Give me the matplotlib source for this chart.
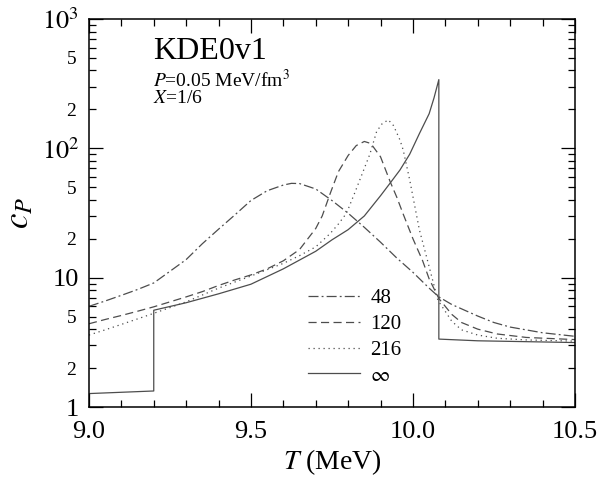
import matplotlib
matplotlib.use('Agg')
import numpy as np
import matplotlib.pyplot as plt
from matplotlib.ticker import FixedLocator, FuncFormatter

plt.rcParams['font.family'] = ['Liberation Serif', 'DejaVu Serif']
plt.rcParams['mathtext.fontset'] = 'stix'

# N = 48 (dash-dot)
t_48 = [9.0, 9.05, 9.1, 9.15, 9.2, 9.25, 9.3, 9.35, 9.4, 9.45, 9.5, 9.55, 9.6, 9.625,
        9.65, 9.7, 9.75, 9.8, 9.85, 9.9, 9.95, 10.0, 10.05, 10.08, 10.12, 10.2, 10.25,
        10.3, 10.4, 10.5]
c_48 = [6.0, 6.6, 7.3, 8.1, 9.1, 11.2, 13.8, 18.3, 23.7, 30.5, 39.5, 47.0, 52.0, 53.6,
        53.4, 48.5, 39.5, 31.5, 24.5, 18.8, 14.2, 11.0, 8.3, 7.1, 6.2, 5.05, 4.5,
        4.15, 3.75, 3.52]

# N = 120 (dashed)
t_120 = [9.0, 9.05, 9.1, 9.15, 9.2, 9.25, 9.3, 9.35, 9.4, 9.45, 9.5, 9.55, 9.6, 9.65,
         9.7, 9.72, 9.745, 9.77, 9.8, 9.825, 9.85, 9.87, 9.9, 9.93, 9.95, 9.97, 10.0,
         10.03, 10.05, 10.08, 10.12, 10.15, 10.2, 10.26, 10.35, 10.5]
c_120 = [4.4, 4.75, 5.1, 5.5, 5.95, 6.5, 7.1, 7.8, 8.7, 9.6, 10.5, 11.7, 13.5, 16.5,
         24.0, 30.0, 45.0, 66.0, 88.0, 105.0, 113.0, 109.0, 86.0, 55.0, 42.0, 31.0, 20.0,
         13.5, 9.8, 6.9, 5.2, 4.5, 4.0, 3.67, 3.45, 3.32]

# N = 216 (dotted)
t_216 = [9.0, 9.05, 9.1, 9.15, 9.2, 9.3, 9.4, 9.5, 9.6, 9.65, 9.7, 9.745, 9.77, 9.795,
         9.82, 9.85, 9.867, 9.888, 9.905, 9.924, 9.94, 9.96, 9.97, 9.99, 10.02, 10.047,
         10.077, 10.12, 10.15, 10.2, 10.26, 10.35, 10.5]
c_216 = [3.6, 3.95, 4.35, 4.8, 5.3, 6.5, 8.3, 10.3, 12.9, 14.8, 17.3, 22.0, 26.0, 31.5,
         45.0, 70.0, 90.0, 135.0, 155.0, 166.0, 150.0, 116.0, 97.0, 57.0, 23.4, 13.0,
         6.7, 4.6, 3.95, 3.6, 3.4, 3.3, 3.23]

# N = infinity (solid)
t_inf = [9.0, 9.2, 9.2, 9.3, 9.4, 9.5, 9.6, 9.7, 9.75, 9.8, 9.85, 9.9, 9.93, 9.96,
         9.99, 10.02, 10.05, 10.065, 10.08, 10.08, 10.2, 10.35, 10.5]
c_inf = [1.27, 1.33, 5.6, 6.4, 7.5, 8.9, 11.7, 16.0, 19.6, 23.5, 30.0, 43.0, 54.0, 68.0,
         90.0, 130.0, 185.0, 245.0, 340.0, 3.35, 3.25, 3.2, 3.15]

labels = ['48', '120', '216', r'$\infty$']

y_major = [1, 10, 100, 1000]
y_major_labels = ['1', '10', r'$10^2$', r'$10^3$']
x_major = [9.0, 9.5, 10.0, 10.5]


def minor_label(v, pos):
    m = round(v / 10 ** np.floor(np.log10(v) + 1e-9))
    return '%d' % m if m in (2, 5) else ''


def main():
    fig = plt.figure(figsize=(5.97, 4.82), dpi=100)
    ax = fig.add_axes([0.149, 0.1556, 0.814, 0.805])

    col = '0.3'
    lw = 0.9
    ax.plot(t_48, c_48, color=col, lw=lw, dashes=(8, 2.5, 1.5, 2.5), label=labels[0])
    ax.plot(t_120, c_120, color=col, lw=lw, dashes=(6.5, 3.5), label=labels[1])
    ax.plot(t_216, c_216, color=col, lw=lw, dashes=(1, 3), label=labels[2])
    ax.plot(t_inf, c_inf, color=col, lw=lw, label=labels[3])

    ax.set_yscale('log')
    ax.set_xlim(9.0, 10.5)
    ax.set_ylim(1, 1000)

    ax.set_xticks(x_major)
    ax.set_xticklabels(['%.1f' % v for v in x_major])
    ax.set_xticks(np.arange(9.0, 10.51, 0.1), minor=True)

    ax.yaxis.set_major_locator(FixedLocator(y_major))
    ax.yaxis.set_major_formatter(FuncFormatter(
        lambda v, p: y_major_labels[y_major.index(v)] if v in y_major else ''))
    minor = [m * d for d in [1, 10, 100] for m in range(2, 10)]
    ax.yaxis.set_minor_locator(FixedLocator(minor))
    ax.yaxis.set_minor_formatter(FuncFormatter(minor_label))

    ax.tick_params(which='both', direction='in', top=True, right=True, width=0.9)
    ax.tick_params(which='major', length=10, labelsize=19, pad=7)
    ax.tick_params(axis='x', which='major', pad=10)
    ax.tick_params(which='minor', length=5)
    ax.tick_params(axis='y', which='minor', labelsize=14, pad=9)
    for s in ax.spines.values():
        s.set_linewidth(1.1)

    ax.set_xlabel(r'$T$ (MeV)', fontsize=20, labelpad=3)
    ax.set_ylabel(r'$c_P$', fontsize=25)
    ax.yaxis.set_label_coords(-0.108, 0.5)

    ax.text(0.132, 0.896, 'KDE0v1', transform=ax.transAxes, fontsize=23)
    ax.text(0.132, 0.824, r'$P$=0.05 MeV/fm$^3$', transform=ax.transAxes, fontsize=14)
    ax.text(0.132, 0.784, r'$X$=1/6', transform=ax.transAxes, fontsize=14)

    ax.legend(loc='upper left', bbox_to_anchor=(0.45, 0.305), frameon=False,
              fontsize=15, handlelength=2.5, handletextpad=0.5, labelspacing=0.3,
              borderpad=0, borderaxespad=0)

    fig.savefig('out.png', dpi=100)


if __name__ == '__main__':
    main()
